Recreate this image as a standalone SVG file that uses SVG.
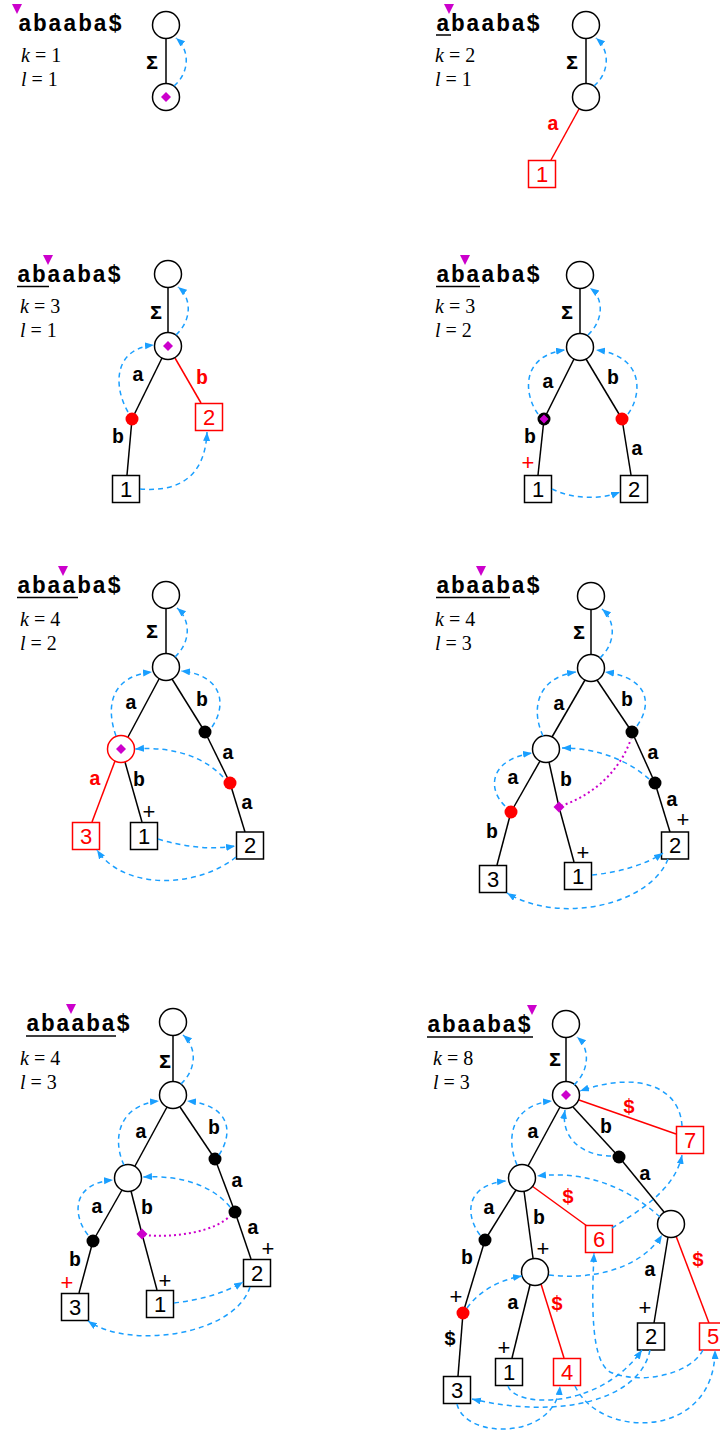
<svg xmlns="http://www.w3.org/2000/svg" width="720" height="1438" viewBox="0 0 720 1438">
<style>
.n{fill:#fff;stroke:#000;stroke-width:1.5}
.nr{fill:#fff;stroke:#f00;stroke-width:1.5}
.e{stroke:#000;stroke-width:1.5;fill:none}
.er{stroke:#f00;stroke-width:1.5;fill:none}
.lk{stroke:#1a9fff;stroke-width:1.5;stroke-dasharray:5 4;fill:none;marker-end:url(#ah)}
.mo{stroke:#c0c;stroke-width:2;stroke-dasharray:2 3;fill:none}
.dm{fill:#c0c}
.tri{fill:#c0c}
.dot{fill:#000}
.rdot{fill:#f00}
.t{font-family:"Liberation Mono","Courier New","DejaVu Sans Mono",monospace;font-weight:bold;font-size:23px}
.lab{font-family:"Liberation Mono","Courier New","DejaVu Sans Mono",monospace;font-weight:bold;font-size:20px;text-anchor:middle}
.red{fill:#f00}
.num{font-family:"Liberation Sans",Arial,sans-serif;font-size:22px;text-anchor:middle}
.kl{font-family:"Liberation Serif","Times New Roman",serif;font-size:20px}
.ul{stroke:#000;stroke-width:1.5}
</style>
<defs>
<marker id="ah" markerUnits="userSpaceOnUse" markerWidth="10" markerHeight="8" refX="9" refY="3.5" orient="auto"><path d="M0,0 L9,3.5 L0,7 z" fill="#1a9fff"/></marker>
</defs>
<rect width="720" height="1438" fill="#fff"/>

<!-- Panel 1 -->
<g id="p1">
<polygon class="tri" points="12,4 22,4 17,14"/>
<text class="t" x="18" y="31" textLength="104" lengthAdjust="spacing">abaaba$</text>
<text class="kl" x="21" y="62"><tspan font-style="italic">k</tspan> = 1</text>
<text class="kl" x="21" y="86"><tspan font-style="italic">l</tspan> = 1</text>
<g id="p1-edges">
<line class="e" x1="166" y1="38.5" x2="166" y2="83.5"/>
<text class="lab" x="152" y="69">Σ</text>
</g>
<g id="p1-n0"><circle class="n" cx="166" cy="25" r="13.5"/></g>
<g id="p1-n1"><circle class="n" cx="166" cy="97" r="13.5"/><polygon class="dm" points="166,92 171,97 166,102 161,97"/></g>
<g id="p1-links"><path class="lk" d="M174,86 C190,72 190,50 176,38"/></g>
</g>

<!-- Panel 2 -->
<g id="p2">
<polygon class="tri" points="444,4 454,4 449,14"/>
<text class="t" x="436" y="31" textLength="104" lengthAdjust="spacing">abaaba$</text>
<line class="ul" x1="436" y1="35" x2="451" y2="35"/>
<text class="kl" x="435" y="62"><tspan font-style="italic">k</tspan> = 2</text>
<text class="kl" x="435" y="86"><tspan font-style="italic">l</tspan> = 1</text>
<g id="p2-edges">
<line class="e" x1="586" y1="38.5" x2="586" y2="83.5"/>
<text class="lab" x="572" y="69">Σ</text>
<line class="er" x1="579" y1="109" x2="551" y2="160"/>
<text class="lab red" x="553" y="130">a</text>
</g>
<g id="p2-n0"><circle class="n" cx="586" cy="25" r="13.5"/></g>
<g id="p2-n1"><circle class="n" cx="586" cy="97" r="13.5"/></g>
<g id="p2-leaf1"><rect class="nr" x="528.5" y="160.5" width="27" height="27"/><text class="num red" x="542" y="182">1</text></g>
<g id="p2-links"><path class="lk" d="M594,86 C610,72 610,50 596,38"/></g>
</g>

<!-- Panel 3 -->
<g id="p3">
<polygon class="tri" points="43,255 53,255 48,265"/>
<text class="t" x="17" y="282" textLength="104" lengthAdjust="spacing">abaaba$</text>
<line class="ul" x1="17" y1="286.5" x2="49" y2="286.5"/>
<text class="kl" x="20" y="313"><tspan font-style="italic">k</tspan> = 3</text>
<text class="kl" x="20" y="337"><tspan font-style="italic">l</tspan> = 1</text>
<g id="p3-edges">
<line class="e" x1="168" y1="287.5" x2="168" y2="332.5"/>
<text class="lab" x="156" y="319">Σ</text>
<line class="e" x1="162" y1="358" x2="132" y2="419"/>
<line class="e" x1="132" y1="419" x2="127" y2="475"/>
<line class="er" x1="175" y1="358" x2="201" y2="403"/>
<text class="lab" x="138" y="381">a</text>
<text class="lab red" x="202" y="384">b</text>
<text class="lab" x="118" y="443">b</text>
</g>
<g id="p3-n0"><circle class="n" cx="168" cy="274" r="13.5"/></g>
<g id="p3-n1"><circle class="n" cx="168" cy="346" r="13.5"/><polygon class="dm" points="168,341 173,346 168,351 163,346"/></g>
<g id="p3-ab"><circle class="rdot" cx="132" cy="419" r="6.5"/></g>
<g id="p3-leaf1"><rect class="n" x="112.5" y="475.5" width="27" height="27"/><text class="num" x="126" y="497">1</text></g>
<g id="p3-leaf2"><rect class="nr" x="195.5" y="403.5" width="27" height="27"/><text class="num red" x="209" y="425">2</text></g>
<g id="p3-links">
<path class="lk" d="M176,335 C192,320 192,298 178,287"/>
<path class="lk" d="M128,412 C114,388 112,349 154,345"/>
<path class="lk" d="M140,489 C175,492 205,480 207,432"/>
</g>
</g>

<!-- Panel 4 -->
<g id="p4">
<polygon class="tri" points="460,255 470,255 465,265"/>
<text class="t" x="436" y="282" textLength="104" lengthAdjust="spacing">abaaba$</text>
<line class="ul" x1="436" y1="286.5" x2="480" y2="286.5"/>
<text class="kl" x="435" y="313"><tspan font-style="italic">k</tspan> = 3</text>
<text class="kl" x="435" y="337"><tspan font-style="italic">l</tspan> = 2</text>
<g id="p4-edges">
<line class="e" x1="580" y1="288.5" x2="580" y2="333.5"/>
<text class="lab" x="567" y="319">Σ</text>
<line class="e" x1="574" y1="359" x2="544" y2="419"/>
<line class="e" x1="544" y1="419" x2="538" y2="475"/>
<line class="e" x1="586" y1="359" x2="622" y2="419"/>
<line class="e" x1="622" y1="419" x2="631" y2="475"/>
<text class="lab" x="548" y="388">a</text>
<text class="lab" x="613" y="384">b</text>
<text class="lab" x="530" y="443">b</text>
<text class="lab" x="637" y="455">a</text>
<text class="num red" x="528" y="470">+</text>
</g>
<g id="p4-n0"><circle class="n" cx="580" cy="275" r="13.5"/></g>
<g id="p4-n1"><circle class="n" cx="580" cy="347" r="13.5"/></g>
<g id="p4-ab"><circle class="dot" cx="544" cy="419" r="6.5"/><polygon class="dm" points="544,414.5 548.5,419 544,423.5 539.5,419"/></g>
<g id="p4-ba"><circle class="rdot" cx="622" cy="419" r="6.5"/></g>
<g id="p4-leaf1"><rect class="n" x="524.5" y="475.5" width="27" height="27"/><text class="num" x="538" y="497">1</text></g>
<g id="p4-leaf2"><rect class="n" x="620.5" y="475.5" width="27" height="27"/><text class="num" x="634" y="497">2</text></g>
<g id="p4-links">
<path class="lk" d="M588,335 C604,320 604,298 590,288"/>
<path class="lk" d="M538,414 C524,395 520,356 565,350"/>
<path class="lk" d="M628,414 C642,395 645,356 596,350"/>
<path class="lk" d="M552,489 C572,499 600,500 620,492"/>
</g>
</g>

<!-- Panel 5 -->
<g id="p5">
<polygon class="tri" points="58,566 68,566 63,576"/>
<text class="t" x="17" y="593" textLength="104" lengthAdjust="spacing">abaaba$</text>
<line class="ul" x1="17" y1="597.5" x2="78" y2="597.5"/>
<text class="kl" x="20" y="626"><tspan font-style="italic">k</tspan> = 4</text>
<text class="kl" x="20" y="650"><tspan font-style="italic">l</tspan> = 2</text>
<g id="p5-edges">
<line class="e" x1="166" y1="608.5" x2="166" y2="653.5"/>
<text class="lab" x="152" y="638">Σ</text>
<line class="e" x1="159" y1="679" x2="128" y2="737"/>
<line class="e" x1="172" y1="679" x2="205" y2="732"/>
<line class="e" x1="205" y1="732" x2="230" y2="783"/>
<line class="e" x1="230" y1="783" x2="245" y2="832"/>
<line class="er" x1="115" y1="761" x2="92" y2="822"/>
<line class="e" x1="125" y1="762" x2="142" y2="822"/>
<text class="lab" x="131" y="709">a</text>
<text class="lab" x="202" y="706">b</text>
<text class="lab" x="228" y="759">a</text>
<text class="lab red" x="95" y="785">a</text>
<text class="lab" x="139" y="786">b</text>
<text class="lab" x="247" y="809">a</text>
<text class="num" x="149" y="819">+</text>
</g>
<g id="p5-n0"><circle class="n" cx="166" cy="595" r="13.5"/></g>
<g id="p5-n1"><circle class="n" cx="166" cy="667" r="13.5"/></g>
<g id="p5-a"><circle class="nr" cx="121" cy="749" r="13.5"/><polygon class="dm" points="121,744 126,749 121,754 116,749"/></g>
<g id="p5-b"><circle class="dot" cx="205" cy="732" r="6.5"/></g>
<g id="p5-ba"><circle class="rdot" cx="230" cy="783" r="6.5"/></g>
<g id="p5-leaf3"><rect class="nr" x="72.5" y="822.5" width="27" height="27"/><text class="num red" x="86" y="844">3</text></g>
<g id="p5-leaf1"><rect class="n" x="130.5" y="822.5" width="27" height="27"/><text class="num" x="144" y="844">1</text></g>
<g id="p5-leaf2"><rect class="n" x="236.5" y="832" width="27" height="27"/><text class="num" x="250" y="853">2</text></g>
<g id="p5-links">
<path class="lk" d="M175,657 C191,642 191,620 177,608"/>
<path class="lk" d="M116,736 C105,705 112,676 152,672"/>
<path class="lk" d="M212,727 C227,705 223,675 181,671"/>
<path class="lk" d="M223,777 C205,758 175,746 135,749"/>
<path class="lk" d="M158,839 C185,847 210,850 235,846"/>
<path class="lk" d="M236,857 C200,887 125,892 97,850"/>
</g>
</g>

<!-- Panel 6 -->
<g id="p6">
<polygon class="tri" points="476,566 486,566 481,576"/>
<text class="t" x="436" y="593" textLength="104" lengthAdjust="spacing">abaaba$</text>
<line class="ul" x1="436" y1="597.5" x2="510" y2="597.5"/>
<text class="kl" x="435" y="626"><tspan font-style="italic">k</tspan> = 4</text>
<text class="kl" x="435" y="650"><tspan font-style="italic">l</tspan> = 3</text>
<g id="p6-edges">
<line class="e" x1="591" y1="609.5" x2="591" y2="654.5"/>
<text class="lab" x="579" y="639">Σ</text>
<line class="e" x1="585" y1="680" x2="552" y2="737"/>
<line class="e" x1="597" y1="680" x2="632" y2="732"/>
<line class="e" x1="632" y1="732" x2="655" y2="783"/>
<line class="e" x1="655" y1="783" x2="670" y2="832"/>
<line class="e" x1="540" y1="761" x2="511" y2="812"/>
<line class="e" x1="511" y1="812" x2="497" y2="865"/>
<line class="e" x1="549" y1="762" x2="559" y2="807"/>
<line class="e" x1="559" y1="807" x2="574" y2="862"/>
<text class="lab" x="559" y="710">a</text>
<text class="lab" x="627" y="706">b</text>
<text class="lab" x="653" y="759">a</text>
<text class="lab" x="513" y="784">a</text>
<text class="lab" x="566" y="786">b</text>
<text class="lab" x="672" y="806">a</text>
<text class="num" x="683" y="827">+</text>
<text class="lab" x="492" y="838">b</text>
<text class="num" x="583" y="860">+</text>
<path class="mo" d="M561,806 C590,796 618,775 631,739"/>
</g>
<g id="p6-n0"><circle class="n" cx="591" cy="596" r="13.5"/></g>
<g id="p6-n1"><circle class="n" cx="591" cy="668" r="13.5"/></g>
<g id="p6-a"><circle class="n" cx="546" cy="749" r="13.5"/></g>
<g id="p6-b"><circle class="dot" cx="632" cy="732" r="6.5"/></g>
<g id="p6-ba"><circle class="dot" cx="655" cy="783" r="6.5"/></g>
<g id="p6-aa"><circle class="rdot" cx="511" cy="812" r="6.5"/></g>
<g id="p6-ab"><polygon class="dm" points="559,801.5 564.5,807 559,812.5 553.5,807"/></g>
<g id="p6-leaf3"><rect class="n" x="479.5" y="865.5" width="27" height="27"/><text class="num" x="493" y="887">3</text></g>
<g id="p6-leaf1"><rect class="n" x="564.5" y="862.5" width="27" height="27"/><text class="num" x="578" y="884">1</text></g>
<g id="p6-leaf2"><rect class="n" x="661.5" y="832" width="27" height="27"/><text class="num" x="675" y="853">2</text></g>
<g id="p6-links">
<path class="lk" d="M600,658 C616,643 616,621 602,609"/>
<path class="lk" d="M543,736 C531,710 536,678 576,672"/>
<path class="lk" d="M637,726 C652,705 650,678 605,672"/>
<path class="lk" d="M505,806 C488,790 488,760 532,753"/>
<path class="lk" d="M649,779 C630,762 600,748 562,748"/>
<path class="lk" d="M592,875 C620,872 645,865 663,853"/>
<path class="lk" d="M668,859 C650,905 560,925 507,893"/>
</g>
</g>

<!-- Panel 7 -->
<g id="p7">
<polygon class="tri" points="66,1004 76,1004 71,1014"/>
<text class="t" x="26" y="1031" textLength="104" lengthAdjust="spacing">abaaba$</text>
<line class="ul" x1="26" y1="1036" x2="116" y2="1036"/>
<text class="kl" x="20" y="1065"><tspan font-style="italic">k</tspan> = 4</text>
<text class="kl" x="20" y="1089"><tspan font-style="italic">l</tspan> = 3</text>
<g id="p7-edges">
<line class="e" x1="173" y1="1035.5" x2="173" y2="1081.5"/>
<text class="lab" x="165" y="1068">Σ</text>
<line class="e" x1="167" y1="1107" x2="135" y2="1166"/>
<line class="e" x1="180" y1="1107" x2="215" y2="1159"/>
<line class="e" x1="215" y1="1159" x2="235" y2="1212"/>
<line class="e" x1="235" y1="1212" x2="251" y2="1259"/>
<line class="e" x1="122" y1="1190" x2="93" y2="1241"/>
<line class="e" x1="93" y1="1241" x2="79" y2="1293"/>
<line class="e" x1="131" y1="1191" x2="142" y2="1234"/>
<line class="e" x1="142" y1="1234" x2="157" y2="1290"/>
<text class="lab" x="141" y="1138">a</text>
<text class="lab" x="214" y="1134">b</text>
<text class="lab" x="237" y="1187">a</text>
<text class="lab" x="97" y="1213">a</text>
<text class="lab" x="147" y="1214">b</text>
<text class="lab" x="253" y="1234">a</text>
<text class="num" x="268" y="1256">+</text>
<text class="lab" x="75" y="1266">b</text>
<text class="num red" x="67" y="1290">+</text>
<text class="num" x="165" y="1288">+</text>
<path class="mo" d="M144,1235 C175,1238 215,1232 231,1215"/>
</g>
<g id="p7-n0"><circle class="n" cx="173" cy="1022" r="13.5"/></g>
<g id="p7-n1"><circle class="n" cx="173" cy="1095" r="13.5"/></g>
<g id="p7-a"><circle class="n" cx="128" cy="1178" r="13.5"/></g>
<g id="p7-b"><circle class="dot" cx="215" cy="1159" r="6.5"/></g>
<g id="p7-ba"><circle class="dot" cx="235" cy="1212" r="6.5"/></g>
<g id="p7-aa"><circle class="dot" cx="93" cy="1241" r="6.5"/></g>
<g id="p7-ab"><polygon class="dm" points="142,1228.5 147.5,1234 142,1239.5 136.5,1234"/></g>
<g id="p7-leaf3"><rect class="n" x="61.5" y="1293.5" width="27" height="27"/><text class="num" x="75" y="1315">3</text></g>
<g id="p7-leaf1"><rect class="n" x="146.5" y="1290.5" width="27" height="27"/><text class="num" x="160" y="1312">1</text></g>
<g id="p7-leaf2"><rect class="n" x="243.5" y="1259.5" width="27" height="27"/><text class="num" x="257" y="1281">2</text></g>
<g id="p7-links">
<path class="lk" d="M181,1084 C197,1069 197,1047 183,1035"/>
<path class="lk" d="M124,1165 C112,1140 118,1105 159,1101"/>
<path class="lk" d="M219,1155 C234,1132 230,1105 187,1101"/>
<path class="lk" d="M88,1235 C72,1215 72,1183 113,1180"/>
<path class="lk" d="M230,1207 C212,1185 180,1175 143,1177"/>
<path class="lk" d="M174,1303 C200,1300 225,1293 243,1282"/>
<path class="lk" d="M250,1287 C235,1335 130,1350 88,1321"/>
</g>
</g>

<!-- Panel 8 -->
<g id="p8">
<polygon class="tri" points="527,1005 537,1005 532,1015"/>
<text class="t" x="427" y="1032" textLength="104" lengthAdjust="spacing">abaaba$</text>
<line class="ul" x1="427" y1="1037" x2="533" y2="1037"/>
<text class="kl" x="433" y="1065"><tspan font-style="italic">k</tspan> = 8</text>
<text class="kl" x="433" y="1089"><tspan font-style="italic">l</tspan> = 3</text>
<g id="p8-edges">
<line class="e" x1="566" y1="1037.5" x2="566" y2="1081.5"/>
<text class="lab" x="555" y="1066">Σ</text>
<line class="er" x1="579" y1="1100" x2="676" y2="1134"/>
<line class="e" x1="573" y1="1107" x2="619" y2="1157"/>
<line class="e" x1="619" y1="1157" x2="664" y2="1212"/>
<line class="e" x1="560" y1="1107" x2="528" y2="1166"/>
<line class="er" x1="532" y1="1186" x2="587" y2="1226"/>
<line class="e" x1="516" y1="1190" x2="485" y2="1240"/>
<line class="e" x1="485" y1="1240" x2="463" y2="1313"/>
<line class="e" x1="463" y1="1313" x2="458" y2="1376"/>
<line class="e" x1="524" y1="1191" x2="533" y2="1258"/>
<line class="e" x1="530" y1="1285" x2="512" y2="1358"/>
<line class="er" x1="541" y1="1284" x2="564" y2="1358"/>
<line class="e" x1="668" y1="1237" x2="654" y2="1323"/>
<line class="er" x1="676" y1="1236" x2="709" y2="1323"/>
<text class="lab red" x="629" y="1113">$</text>
<text class="lab" x="533" y="1138">a</text>
<text class="lab" x="606" y="1133">b</text>
<text class="lab" x="645" y="1180">a</text>
<text class="lab red" x="568" y="1203">$</text>
<text class="lab" x="489" y="1214">a</text>
<text class="lab" x="539" y="1224">b</text>
<text class="num" x="543" y="1256">+</text>
<text class="lab red" x="698" y="1266">$</text>
<text class="lab" x="650" y="1276">a</text>
<text class="lab" x="467" y="1264">b</text>
<text class="num" x="456" y="1304">+</text>
<text class="lab" x="513" y="1309">a</text>
<text class="lab red" x="557" y="1310">$</text>
<text class="num" x="645" y="1315">+</text>
<text class="lab" x="450" y="1345">$</text>
<text class="num" x="504" y="1355">+</text>
</g>
<g id="p8-n0"><circle class="n" cx="566" cy="1024" r="13.5"/></g>
<g id="p8-n1"><circle class="n" cx="566" cy="1095" r="13.5"/><polygon class="dm" points="566,1090 571,1095 566,1100 561,1095"/></g>
<g id="p8-leaf7"><rect class="nr" x="676.5" y="1126.5" width="27" height="27"/><text class="num red" x="690" y="1148">7</text></g>
<g id="p8-b"><circle class="dot" cx="619" cy="1157" r="6.5"/></g>
<g id="p8-a"><circle class="n" cx="522" cy="1178" r="13.5"/></g>
<g id="p8-ba"><circle class="n" cx="671" cy="1224" r="13.5"/></g>
<g id="p8-leaf6"><rect class="nr" x="585.5" y="1225.5" width="27" height="27"/><text class="num red" x="599" y="1247">6</text></g>
<g id="p8-aa"><circle class="dot" cx="485" cy="1240" r="6.5"/></g>
<g id="p8-ab"><circle class="n" cx="535" cy="1272" r="13.5"/></g>
<g id="p8-aab"><circle class="rdot" cx="463" cy="1313" r="6.5"/></g>
<g id="p8-leaf3"><rect class="n" x="443.5" y="1376.5" width="27" height="27"/><text class="num" x="457" y="1398">3</text></g>
<g id="p8-leaf1"><rect class="n" x="495.5" y="1358.5" width="27" height="27"/><text class="num" x="509" y="1380">1</text></g>
<g id="p8-leaf4"><rect class="nr" x="553.5" y="1358.5" width="27" height="27"/><text class="num red" x="567" y="1380">4</text></g>
<g id="p8-leaf2"><rect class="n" x="637.5" y="1323" width="27" height="27"/><text class="num" x="651" y="1344">2</text></g>
<g id="p8-leaf5"><rect class="nr" x="699.5" y="1323" width="27" height="27"/><text class="num red" x="713" y="1344">5</text></g>
<g id="p8-links">
<path class="lk" d="M574,1085 C590,1070 590,1048 577,1037"/>
<path class="lk" d="M517,1165 C506,1140 510,1105 552,1101"/>
<path class="lk" d="M611,1156 C585,1156 560,1140 565,1110"/>
<path class="lk" d="M682,1126 C680,1088 640,1070 580,1091"/>
<path class="lk" d="M612,1228 C640,1210 675,1190 682,1155"/>
<path class="lk" d="M480,1235 C465,1215 465,1185 506,1181"/>
<path class="lk" d="M660,1217 C630,1190 590,1170 537,1176"/>
<path class="lk" d="M467,1308 C480,1290 500,1280 522,1276"/>
<path class="lk" d="M549,1275 C590,1280 640,1270 662,1235"/>
<path class="lk" d="M703,1350 C690,1375 640,1385 610,1372 C590,1360 592,1300 594,1253"/>
<path class="lk" d="M508,1386 C515,1408 600,1410 642,1350"/>
<path class="lk" d="M650,1350 C640,1400 560,1420 472,1399"/>
<path class="lk" d="M457,1404 C465,1440 555,1440 560,1386"/>
<path class="lk" d="M575,1386 C600,1440 715,1440 715,1350"/>
</g>
</g>
</svg>
